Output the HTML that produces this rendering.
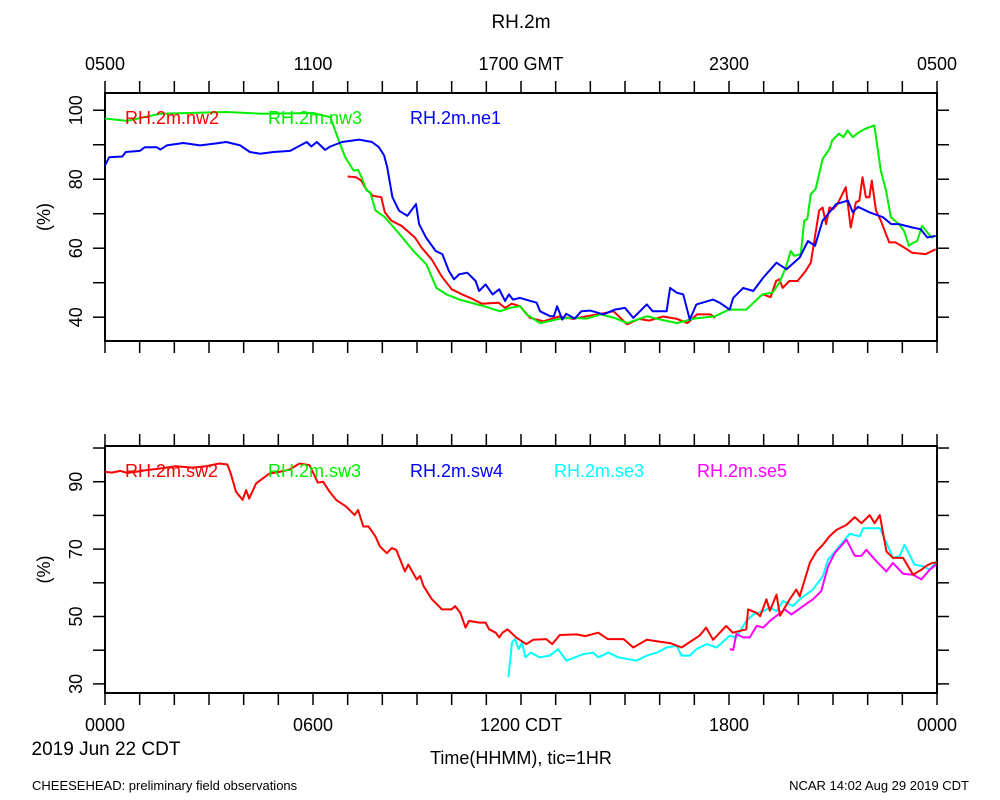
<!DOCTYPE html>
<html><head><meta charset="utf-8"><style>
body{margin:0;background:#fff}
svg{display:block;font-family:"Liberation Sans",sans-serif}
</style></head><body>
<svg id="chart" width="1000" height="800" viewBox="0 0 1000 800" xmlns="http://www.w3.org/2000/svg">
<text x="521" y="28" font-size="19" text-anchor="middle">RH.2m</text>
<text x="32" y="790" font-size="13">CHEESEHEAD: preliminary field observations</text>
<text x="969" y="790" font-size="13" text-anchor="end">NCAR 14:02 Aug 29 2019 CDT</text>
<text x="106" y="755" font-size="19" text-anchor="middle">2019 Jun 22 CDT</text>
<text x="521" y="764" font-size="18" text-anchor="middle">Time(HHMM), tic=1HR</text>
<g id="g"></g>
</svg>
<script>
// top panel data (hours CDT, RH %)
const nw2H=[7.0,7.24,7.39,7.53,7.73,7.97,8.07,8.26,8.55,8.94,9.13,9.42,9.71,10.0,10.3,10.58,10.87,11.35,11.54,11.73,11.97,12.26,12.65,13.1,13.5,13.9,14.3,14.67,15.06,15.4,15.7,16.1,16.5,16.8,17.08,17.47,17.6];
const nw2V=[80.8,80.6,79.6,77.2,75.2,74.8,70.4,68,66.5,63.1,60.2,56.8,51.9,48.1,46.6,45.4,43.9,44.2,42.7,43.9,43.2,39.8,38.8,40.2,39.5,40.3,41,41.7,37.9,39.5,39,40.2,39.5,38.3,40.8,40.8,39.8];
const nw2bH=[18.98,19.2,19.36,19.45,19.55,19.74,19.98,20.21,20.36,20.46,20.6,20.7,20.8,20.9,21.0,21.13,21.27,21.37,21.51,21.66,21.76,21.85,21.95,22.05,22.12,22.24,22.38,22.62,22.8,23.05,23.28,23.67,23.96];
const nw2bV=[46.6,45.8,50.5,51,48.5,50.5,50.5,53.4,55.8,62.1,70.9,71.8,67,71.8,71.3,72.8,75.7,77.7,66,73.3,73.8,80.6,74.8,74.8,79.6,70.9,68,61.7,61.7,60.2,58.7,58.3,59.7];
const nw3H=[0,0.63,1.6,3.5,4.5,6.0,6.5,6.74,6.93,7.17,7.3,7.4,7.55,7.65,7.8,8.07,8.5,8.9,9.27,9.56,9.85,10.23,11.0,11.39,11.68,11.97,12.16,12.55,13.13,13.5,13.9,14.3,14.7,15.06,15.64,15.9,16.5,16.99,17.6,18.0,18.5,18.96,19.26,19.45,19.64,19.78,19.88,20.07,20.17,20.26,20.36,20.5,20.7,20.9,20.98,21.17,21.3,21.42,21.57,21.76,21.95,22.19,22.38,22.53,22.67,22.9,23.05,23.19,23.3,23.43,23.57,23.76,23.86,23.96];
const nw3V=[97.6,96.9,99,99.5,99,99.2,98,91.3,86.4,82.5,82.7,80.6,76.7,76.2,71,69,64,59.2,55.3,48.5,46.6,45.1,43,41.7,42.7,43.2,40.8,38.3,39.6,39.8,39.6,40.8,39.8,38.3,40.3,39.6,38.3,39.6,40.3,42.2,42.2,46.6,47.1,50,54.4,59.2,57.8,58.3,68,68.4,75.7,77.2,85.9,88.8,91.3,93.2,92.2,94.2,92.2,93.7,94.7,95.6,82.5,76.7,69,67,65,60.7,61.5,62.1,66.5,64.1,63.1,63.6];
const ne1H=[0,0.12,0.5,0.6,1.0,1.15,1.49,1.6,1.78,2.26,2.74,3.13,3.5,3.9,4.18,4.47,4.86,5.34,5.82,5.95,6.11,6.35,6.5,6.84,7.33,7.7,7.9,8.05,8.14,8.29,8.48,8.72,8.97,9.06,9.26,9.54,9.73,9.92,10.07,10.21,10.45,10.69,10.79,10.98,11.18,11.37,11.54,11.65,11.77,11.97,12.45,12.55,12.84,12.95,13.04,13.19,13.3,13.55,13.74,14.0,14.38,14.71,15.0,15.24,15.63,15.8,16.2,16.3,16.49,16.68,16.87,17.06,17.54,17.73,18.02,18.12,18.41,18.7,18.99,19.37,19.66,20.04,20.28,20.48,20.7,21.09,21.43,21.57,21.72,22.05,22.44,22.68,22.9,23.29,23.53,23.72,23.96];
const ne1V=[84,86.4,86.6,87.9,88.2,89.3,89.3,88.6,89.8,90.5,89.8,90.3,90.8,89.8,87.9,87.4,87.9,88.2,90.8,89.5,90.8,88.5,89.5,90.8,91.5,90.8,89.3,86.9,83.5,74.8,70.9,69.4,72.8,67,63.1,59.2,58.3,53.4,51,52.4,52.9,50.5,47.6,49.5,46.6,48.1,44.7,46.6,45.1,45.6,44.2,41.7,40.3,40.3,43.2,39.3,41,39.6,41.7,41.9,40.8,42.2,42.7,39.8,43.7,41.7,41.7,48.5,47.1,46.6,39.3,43.7,45.1,44.2,42.2,45.6,48.5,47.6,51.5,55.8,53.9,57.3,62.1,60.7,68,72.8,73.8,70.4,72,70.4,69,67,67,66,65.5,63.1,63.6];
// bottom panel data
const sw2H=[0,0.2,0.44,0.65,1.17,1.56,2.04,2.52,2.91,3.3,3.53,3.63,3.78,3.97,4.07,4.16,4.36,4.74,5.03,5.32,5.61,5.9,6.14,6.29,6.48,6.67,6.96,7.2,7.3,7.45,7.6,7.8,7.93,8.13,8.27,8.4,8.65,8.75,8.99,9.09,9.19,9.43,9.72,10.0,10.1,10.25,10.4,10.5,10.79,10.98,11.08,11.27,11.37,11.47,11.61,11.86,12.15,12.35,12.73,12.9,13.12,13.6,13.85,14.23,14.5,14.96,15.24,15.63,16.01,16.3,16.63,17.15,17.34,17.54,17.92,18.11,18.5,18.55,18.79,18.9,19.08,19.18,19.37,19.47,19.75,19.94,20.04,20.33,20.52,20.71,20.9,21.1,21.39,21.63,21.82,22.06,22.2,22.35,22.54,22.73,23.02,23.31,23.55,23.7,23.87,24.0];
const sw2V=[92.9,92.7,93.2,92.6,93.4,93.9,94.6,94.2,94.6,95.4,95.1,92.4,87,84.6,87.5,85,89.5,92.4,92.9,93.6,95.4,94.9,89.7,90,87,84.6,82.6,80.1,81.6,76.7,76.7,73.8,70.8,68.8,70.3,69.8,63.4,65.4,61,62,59,55.1,52.1,52.1,53.1,51.1,46.7,48.7,48.2,48.2,46.2,45.2,43.8,45.2,46.2,43.8,41.8,43.1,43.3,41.8,44.5,44.7,44.2,45.2,43.3,43.3,40.8,43.1,42.5,42.1,40.8,44.3,46.7,43.1,47.2,45.2,46.2,52.1,51.1,50.1,55.1,51.7,56.5,50.2,55.1,58,56,65.9,69.3,71.3,73.8,75.7,77.2,79.5,77.7,80.1,77.7,80.1,69.3,67.4,67.4,62.4,63.9,65.1,65.9,66];
const se3H=[11.64,11.74,11.83,11.93,12.03,12.13,12.28,12.54,12.83,13.07,13.31,13.79,14.08,14.23,14.52,14.81,15.33,15.63,15.92,16.2,16.49,16.63,16.87,17.06,17.35,17.64,18.02,18.21,18.5,18.7,18.99,19.18,19.37,19.56,19.85,20.04,20.42,20.71,20.86,21.1,21.48,21.77,21.87,22.16,22.35,22.5,22.73,22.92,23.06,23.35,23.6,23.79,23.98];
const se3V=[32,42.3,43.3,40.3,42.3,37.9,39.3,37.9,38.4,40.3,36.9,38.8,39.3,37.9,39.3,37.9,36.9,38.4,39.3,40.8,41.3,38.4,38.4,40.3,41.8,40.8,44.3,43.8,48.7,50.6,51.6,52.6,51.6,54.6,53.1,55.1,58,62,66.9,69.8,74.5,73.8,76.2,76.2,76.2,72.8,67.4,67.9,71.3,65.4,64.9,63.9,66.4];
const se5H=[18.02,18.12,18.21,18.41,18.6,18.8,18.99,19.18,19.37,19.61,19.8,20.14,20.42,20.66,20.86,21.05,21.39,21.63,21.82,21.96,22.25,22.54,22.73,23.02,23.31,23.55,23.79,23.98];
const se5V=[40.3,40.1,44.8,43.8,43.8,47.2,46.7,48.7,50.2,52.1,50.6,53.1,55.1,57.5,64.9,68.8,72.8,68,68,69.8,66.4,63.4,65.9,62.7,62.4,61,63.9,65.4];
const topTicks=["0500","1100","1700 GMT","2300","0500"];
const botTicks=["0000","0600","1200 CDT","1800","0000"];
const topY=[40,60,80,100];
const botY=[30,50,70,90];

const NS="http://www.w3.org/2000/svg";
const g=document.getElementById('g');
const X0=105,X1=937;
const xs=h=>X0+(X1-X0)*h/24;
function mk(tag,attrs){const e=document.createElementNS(NS,tag);for(const k in attrs)e.setAttribute(k,attrs[k]);g.appendChild(e);return e;}
const panels=[
 {name:'top',top:93,bot:341,ymin:33.1,ymax:105,minor:10,labels:topY},
 {name:'bottom',top:446,bot:693,ymin:27.3,ymax:100.6,minor:10,labels:botY}
];
panels.forEach(p=>{p.ys=v=>p.bot-(v-p.ymin)/(p.ymax-p.ymin)*(p.bot-p.top);});
panels.forEach(p=>{
 const f=mk('rect',{x:X0,y:p.top,width:X1-X0,height:p.bot-p.top,fill:'none',stroke:'#000','stroke-width':2});
 
 
 for(let h=0;h<=24;h++){
  const x=xs(h);
  const t1=mk('line',{x1:x,x2:x,y1:p.top,y2:p.top-12,stroke:'#000','stroke-width':1.5});
  
  
  const t2=mk('line',{x1:x,x2:x,y1:p.bot,y2:p.bot+12,stroke:'#000','stroke-width':1.5});
  
  
 }
 for(let v=Math.ceil(p.ymin/10)*10;v<=p.ymax;v+=p.minor){
  const y=p.ys(v);
  const a=mk('line',{x1:X0,x2:X0-12,y1:y,y2:y,stroke:'#000','stroke-width':1.5});
  
  
  const b=mk('line',{x1:X1,x2:X1+12,y1:y,y2:y,stroke:'#000','stroke-width':1.5});
  
  
 }
 p.labels.forEach(v=>{
  const y=p.ys(v);
  const t=mk('text',{x:0,y:0,'font-size':18,'text-anchor':'middle',transform:`translate(82,${y}) rotate(-90)`});
  t.textContent=v;
  
  
 });
 const yl=mk('text',{'font-size':18,'text-anchor':'middle',transform:`translate(50,${(p.top+p.bot)/2}) rotate(-90)`});
 yl.textContent='(%)';
 
 
});
topTicks.forEach((s,i)=>{const t=mk('text',{x:xs(i*6),y:70,'font-size':18,'text-anchor':'middle'});t.textContent=s;
 
 });
botTicks.forEach((s,i)=>{const t=mk('text',{x:xs(i*6),y:731,'font-size':18,'text-anchor':'middle'});t.textContent=s;
 
 });
function line(p,H,V,color,name){
 const d=H.map((h,i)=>(i?'L':'M')+xs(h).toFixed(1)+' '+p.ys(V[i]).toFixed(1)).join(' ');
 const e=mk('path',{d:d,fill:'none',stroke:color,'stroke-width':2,'stroke-linejoin':'round'});
 
 
}
const P=panels[0],Q=panels[1];
line(P,nw2H,nw2V,'#ff0000','series-nw2');
line(P,nw2bH,nw2bV,'#ff0000','series-nw2');
line(P,nw3H,nw3V,'#00ee00','series-nw3');
line(P,ne1H,ne1V,'#0000ff','series-ne1');
line(Q,se3H,se3V,'#00ffff','series-se3');
line(Q,se5H,se5V,'#ff00ff','series-se5');
line(Q,sw2H,sw2V,'#ff0000','series-sw2');
const legTop=[['RH.2m.nw2','#ff0000',125],['RH.2m.nw3','#00ee00',268],['RH.2m.ne1','#0000ff',410]];
const legBot=[['RH.2m.sw2','#ff0000',125],['RH.2m.sw3','#00ee00',268],['RH.2m.sw4','#0000ff',410],['RH.2m.se3','#00ffff',554],['RH.2m.se5','#ff00ff',697]];
legTop.forEach(l=>{const t=mk('text',{x:l[2],y:124,'font-size':18,fill:l[1]});t.textContent=l[0];
 
 });
legBot.forEach(l=>{const t=mk('text',{x:l[2],y:477,'font-size':18,fill:l[1]});t.textContent=l[0];
 
 });
</script>
</body></html>
